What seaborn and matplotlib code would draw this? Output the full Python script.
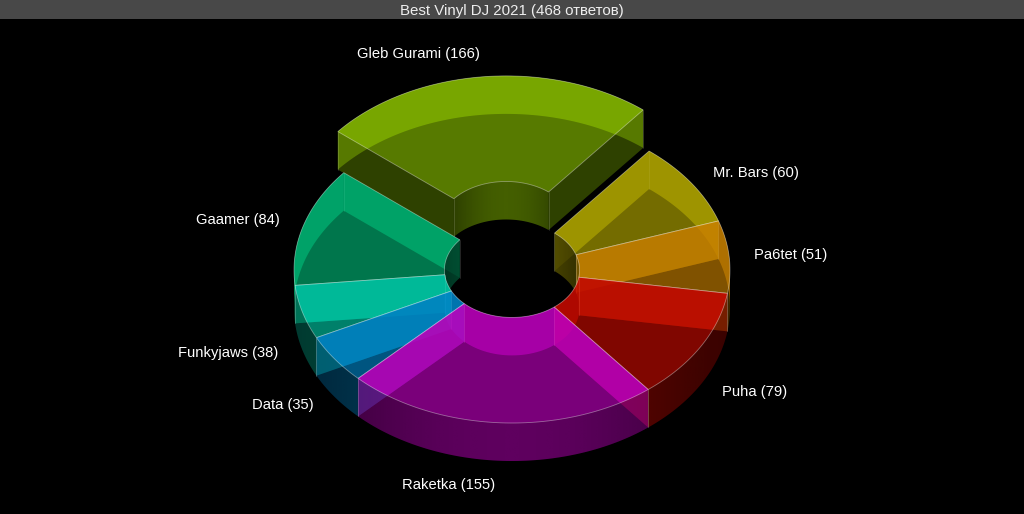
import numpy as np
import matplotlib
matplotlib.use("Agg")
import matplotlib.pyplot as plt
from matplotlib.patches import Polygon
import seaborn as sns

# chart data
djs = ['Gleb Gurami', 'Mr. Bars', 'Pa6tet', 'Puha', 'Raketka', 'Data', 'Funkyjaws', 'Gaamer']
votes = [166, 60, 51, 79, 155, 35, 38, 84]
title = 'Best Vinyl DJ 2021 (468 ответов)'

# styling
slice_colors = ['#90c800', '#beb200', '#d28700', '#d20a00', '#c800c8', '#008cd2', '#00d2af', '#00c37d']
explode = [0.27, 0, 0, 0, 0, 0, 0, 0]
label_pos = [(418, 54), (756, 173), (791, 255), (755, 392), (449, 485), (283, 405), (228, 353), (238, 220)]

cx, cy = 512, 270
rx, ry = 218, 153
hole = 0.31
depth = 38
start_angle = 140.5

sns.set_theme(style='dark', rc={'axes.facecolor': 'black', 'figure.facecolor': 'black'})
plt.rcParams['font.family'] = ['Liberation Sans', 'DejaVu Sans']
palette = sns.color_palette(slice_colors)

fig = plt.figure(figsize=(10.24, 5.14), dpi=100)
ax = fig.add_axes([0, 0, 1, 1])
ax.set_autoscale_on(False)
ax.set_xlim(0, 1024)
ax.set_ylim(514, 0)
ax.axis('off')

z = [1]


def next_z():
    z[0] += 1
    return z[0]


def arc(t0, t1, frac, ox, oy, dz=0):
    n = max(int(abs(t1 - t0) * 1.5), 2)
    t = np.radians(np.linspace(t0, t1, n))
    return np.column_stack([ox + frac * rx * np.cos(t), oy - frac * ry * np.sin(t) + dz])


def flat(pts, color, alpha, clip=None):
    p = Polygon(pts, closed=True, facecolor=color, edgecolor='none', alpha=alpha, zorder=next_z())
    ax.add_patch(p)
    if clip is not None:
        p.set_clip_path(Polygon(clip, closed=True, transform=ax.transData))


def shaded(pts, color, ox, r, lo, hi):
    # wall that is lighter where it faces the viewer
    x0, x1 = pts[:, 0].min(), pts[:, 0].max()
    y0, y1 = pts[:, 1].min(), pts[:, 1].max()
    xs = np.linspace(x0, x1, 64)
    u = np.clip((xs - ox) / r, -1, 1)
    img = np.zeros((1, 64, 4))
    img[..., :3] = color
    img[..., 3] = lo + (hi - lo) * (1 - u ** 2) ** 1.5
    im = ax.imshow(img, extent=(x0, x1, y1, y0), aspect='auto', interpolation='bilinear',
                   zorder=next_z())
    im.set_clip_path(Polygon(pts, closed=True, transform=ax.transData))


def curved_wall(t0, t1, frac, ox, oy, color, faces_viewer):
    if abs(t1 - t0) < 0.01:
        return
    top = arc(t0, t1, frac, ox, oy)
    bottom = arc(t0, t1, frac, ox, oy, depth)
    pts = np.vstack([top, bottom[::-1]])
    if faces_viewer:
        shaded(pts, color, ox, frac * rx, 0.2, 0.42)
    else:
        flat(pts, color, 0.62)


def split_range(t0, t1):
    # cut an angle span (t0 > t1) where it crosses 0 or 180 degrees
    cuts = [t0]
    for c in (540, 360, 180, 0, -180):
        if t1 < c < t0:
            cuts.append(c)
    cuts.append(t1)
    return list(zip(cuts[:-1], cuts[1:]))


total = sum(votes)
angles = start_angle - np.cumsum([0] + votes) / total * 360
order = sorted(range(len(votes)), key=lambda i: -np.sin(np.radians((angles[i] + angles[i + 1]) / 2)))

for i in order:
    t0, t1 = angles[i], angles[i + 1]
    mid = np.radians((t0 + t1) / 2)
    color = palette[i]
    dark = tuple(c * 0.6 for c in color)
    ox = cx + explode[i] * rx * np.cos(mid)
    oy = cy - explode[i] * ry * np.sin(mid)
    top = np.vstack([arc(t0, t1, 1, ox, oy), arc(t1, t0, hole, ox, oy)])

    # floor of the slice
    floor = np.vstack([arc(t0, t1, 1, ox, oy, depth), arc(t1, t0, hole, ox, oy, depth)])
    flat(floor, color, 0.1)

    # outer and inner curved walls
    for a, b in split_range(t0, t1):
        m = np.sin(np.radians((a + b) / 2))
        curved_wall(a, b, 1, ox, oy, color, m < 0)
        curved_wall(a, b, hole, ox, oy, color, m > 0)

    # the two straight walls
    for t, normal in ((t0, t0 + 90), (t1, t1 - 90)):
        rad = np.radians(t)
        outer = np.array([ox + rx * np.cos(rad), oy - ry * np.sin(rad)])
        inner = np.array([ox + hole * rx * np.cos(rad), oy - hole * ry * np.sin(rad)])
        pts = np.array([outer, inner, inner + [0, depth], outer + [0, depth]])
        if np.sin(np.radians(normal)) < 0:
            flat(pts, dark, 0.45)
        else:
            # seen through the top face it reads much brighter than in the open hole
            flat(pts, color, 0.2)
            flat(pts, color, 0.52, clip=top)
        ax.plot([outer[0], outer[0]], [outer[1], outer[1] + depth], color='white', lw=0.5,
                alpha=0.2, zorder=next_z())
        ax.plot([inner[0], inner[0]], [inner[1], inner[1] + depth], color='white', lw=0.5,
                alpha=0.2, zorder=next_z())

    # top face and its thin light outline
    flat(top, color, 0.57)
    ax.add_patch(Polygon(top, closed=True, facecolor='none', edgecolor='white', lw=0.6,
                         alpha=0.4, zorder=next_z()))

# title bar
ax.axhspan(0, 19, color='#484848', lw=0, zorder=next_z())
ax.text(512, 10.5, title, color='#eeeeee', fontsize=10.8, ha='center', va='center', zorder=next_z())

for name, n, (lx, ly) in zip(djs, votes, label_pos):
    ax.text(lx, ly, f'{name} ({n})', color='white', fontsize=10.6, ha='center', va='center',
            zorder=next_z())

fig.savefig('out.png', dpi=100, facecolor='black')
